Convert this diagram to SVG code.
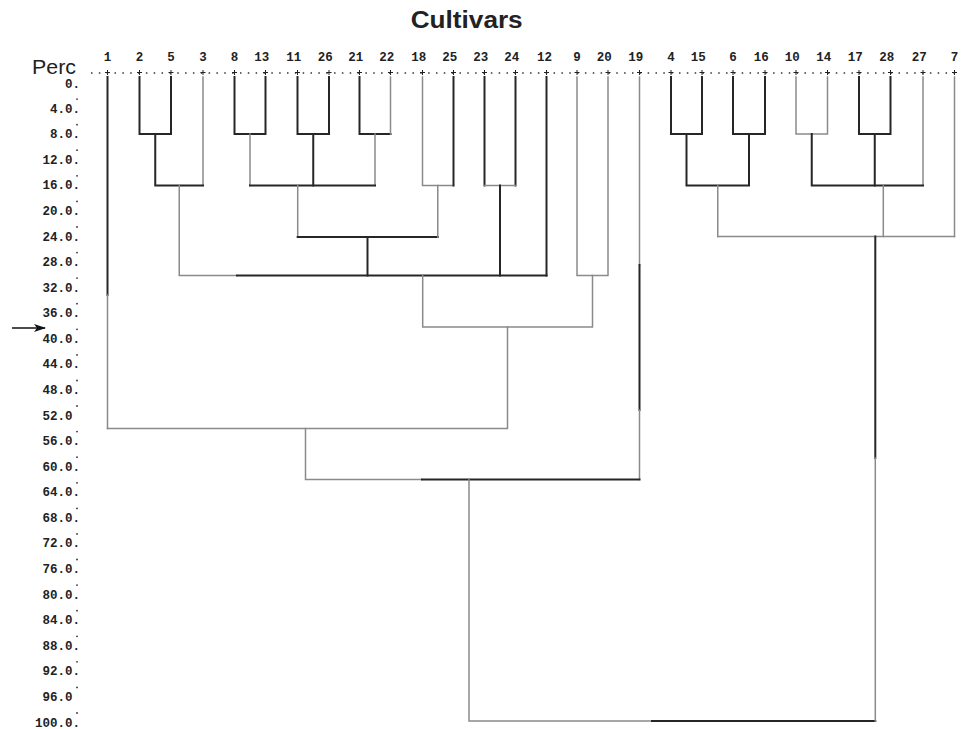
<svg xmlns="http://www.w3.org/2000/svg" width="961" height="729" viewBox="0 0 961 729">
<style>
.d{stroke:#262626;stroke-width:2;fill:none;stroke-linecap:square}
.g{stroke:#8a8a8a;stroke-width:1.5;fill:none;stroke-linecap:square}
.num{font-family:"Liberation Mono","DejaVu Sans Mono",monospace;font-weight:bold;font-size:12.5px;fill:#222}
.ax{font-family:"Liberation Mono","DejaVu Sans Mono",monospace;font-weight:bold;font-size:12.5px;fill:#222;text-anchor:end}
.tick{stroke:#222;stroke-width:1;fill:none}
.dot{fill:#333}
</style>
<defs>
<marker id="ah" markerWidth="12" markerHeight="10" refX="11" refY="5" orient="auto" markerUnits="userSpaceOnUse">
<path d="M0,1 L12,5 L0,9 L3,5 Z" fill="#111"/>
</marker>
</defs>
<rect width="961" height="729" fill="#fff"/>

<text x="466.7" y="28" font-family="Liberation Sans,Arial,sans-serif" font-weight="bold" font-size="23" text-anchor="middle" textLength="112" lengthAdjust="spacingAndGlyphs" fill="#222">Cultivars</text>
<text x="32" y="74" font-family="Liberation Sans,Arial,sans-serif" font-size="20" textLength="44" lengthAdjust="spacingAndGlyphs" fill="#222">Perc</text>

<!-- header dotted ruler -->
<g id="ruler">
<line x1="91" y1="73" x2="956" y2="73" stroke="#333" stroke-width="1.5" stroke-dasharray="1.5 6.34"/>
</g>

<!-- leaves -->
<g id="leaf-1"><text class="num" x="107.5" y="60.5" text-anchor="middle">1</text><path class="tick" d="M105 72.5h5M107.5 70v5"/></g>
<g id="leaf-2"><text class="num" x="139.5" y="60.5" text-anchor="middle">2</text><path class="tick" d="M137 72.5h5M139.5 70v5"/></g>
<g id="leaf-5"><text class="num" x="171" y="60.5" text-anchor="middle">5</text><path class="tick" d="M168.5 72.5h5M171 70v5"/></g>
<g id="leaf-3"><text class="num" x="203" y="60.5" text-anchor="middle">3</text><path class="tick" d="M200.5 72.5h5M203 70v5"/></g>
<g id="leaf-8"><text class="num" x="234.5" y="60.5" text-anchor="middle">8</text><path class="tick" d="M232 72.5h5M234.5 70v5"/></g>
<g id="leaf-13"><text class="num" x="269.3" y="60.5" text-anchor="end">13</text><path class="tick" d="M263 72.5h5M265.5 70v5"/></g>
<g id="leaf-11"><text class="num" x="301.3" y="60.5" text-anchor="end">11</text><path class="tick" d="M295 72.5h5M297.5 70v5"/></g>
<g id="leaf-26"><text class="num" x="332.8" y="60.5" text-anchor="end">26</text><path class="tick" d="M326.5 72.5h5M329 70v5"/></g>
<g id="leaf-21"><text class="num" x="363.3" y="60.5" text-anchor="end">21</text><path class="tick" d="M357 72.5h5M359.5 70v5"/></g>
<g id="leaf-22"><text class="num" x="394.3" y="60.5" text-anchor="end">22</text><path class="tick" d="M388 72.5h5M390.5 70v5"/></g>
<g id="leaf-18"><text class="num" x="426.3" y="60.5" text-anchor="end">18</text><path class="tick" d="M420 72.5h5M422.5 70v5"/></g>
<g id="leaf-25"><text class="num" x="457.3" y="60.5" text-anchor="end">25</text><path class="tick" d="M451 72.5h5M453.5 70v5"/></g>
<g id="leaf-23"><text class="num" x="488.3" y="60.5" text-anchor="end">23</text><path class="tick" d="M482 72.5h5M484.5 70v5"/></g>
<g id="leaf-24"><text class="num" x="519.3" y="60.5" text-anchor="end">24</text><path class="tick" d="M513 72.5h5M515.5 70v5"/></g>
<g id="leaf-12"><text class="num" x="552" y="60.5" text-anchor="end">12</text><path class="tick" d="M544 72.5h5M546.5 70v5"/></g>
<g id="leaf-9"><text class="num" x="577" y="60.5" text-anchor="middle">9</text><path class="tick" d="M574.5 72.5h5M577 70v5"/></g>
<g id="leaf-20"><text class="num" x="611.8" y="60.5" text-anchor="end">20</text><path class="tick" d="M605.5 72.5h5M608 70v5"/></g>
<g id="leaf-19"><text class="num" x="643.3" y="60.5" text-anchor="end">19</text><path class="tick" d="M637 72.5h5M639.5 70v5"/></g>
<g id="leaf-4"><text class="num" x="671" y="60.5" text-anchor="middle">4</text><path class="tick" d="M668.5 72.5h5M671 70v5"/></g>
<g id="leaf-15"><text class="num" x="705.8" y="60.5" text-anchor="end">15</text><path class="tick" d="M699.5 72.5h5M702 70v5"/></g>
<g id="leaf-6"><text class="num" x="733" y="60.5" text-anchor="middle">6</text><path class="tick" d="M730.5 72.5h5M733 70v5"/></g>
<g id="leaf-16"><text class="num" x="768.8" y="60.5" text-anchor="end">16</text><path class="tick" d="M762.5 72.5h5M765 70v5"/></g>
<g id="leaf-10"><text class="num" x="799.8" y="60.5" text-anchor="end">10</text><path class="tick" d="M793.5 72.5h5M796 70v5"/></g>
<g id="leaf-14"><text class="num" x="831.3" y="60.5" text-anchor="end">14</text><path class="tick" d="M825 72.5h5M827.5 70v5"/></g>
<g id="leaf-17"><text class="num" x="862.8" y="60.5" text-anchor="end">17</text><path class="tick" d="M856.5 72.5h5M859 70v5"/></g>
<g id="leaf-28"><text class="num" x="894.3" y="60.5" text-anchor="end">28</text><path class="tick" d="M888 72.5h5M890.5 70v5"/></g>
<g id="leaf-27"><text class="num" x="926.8" y="60.5" text-anchor="end">27</text><path class="tick" d="M920.5 72.5h5M923 70v5"/></g>
<g id="leaf-7"><text class="num" x="954.5" y="60.5" text-anchor="middle">7</text><path class="tick" d="M952 72.5h5M954.5 70v5"/></g>

<!-- axis -->
<g id="axis">
<text class="ax" x="80" y="87.5">0.</text>
<text class="ax" x="80" y="112.6">4.0.</text>
<text class="ax" x="80" y="138.2">8.0.</text>
<text class="ax" x="80" y="163.7">12.0.</text>
<text class="ax" x="80" y="189.3">16.0.</text>
<text class="ax" x="80" y="214.9">20.0.</text>
<text class="ax" x="80" y="240.5">24.0.</text>
<text class="ax" x="80" y="266.1">28.0.</text>
<text class="ax" x="80" y="291.6">32.0.</text>
<text class="ax" x="80" y="317.2">36.0.</text>
<text class="ax" x="80" y="342.8">40.0.</text>
<text class="ax" x="80" y="368.4">44.0.</text>
<text class="ax" x="80" y="394">48.0.</text>
<text class="ax" x="72.5" y="419.5">52.0</text>
<text class="ax" x="80" y="445.1">56.0.</text>
<text class="ax" x="80" y="470.7">60.0.</text>
<text class="ax" x="80" y="496.3">64.0.</text>
<text class="ax" x="80" y="521.9">68.0.</text>
<text class="ax" x="80" y="547.4">72.0.</text>
<text class="ax" x="80" y="573">76.0.</text>
<text class="ax" x="80" y="598.6">80.0.</text>
<text class="ax" x="80" y="624.2">84.0.</text>
<text class="ax" x="80" y="649.8">88.0.</text>
<text class="ax" x="80" y="675.3">92.0.</text>
<text class="ax" x="72.5" y="700.9">96.0</text>
<text class="ax" x="80" y="726.5">100.0.</text>
<g class="dot">
<circle cx="77" cy="99.1" r="0.9"/><circle cx="77" cy="124.7" r="0.9"/><circle cx="77" cy="150.2" r="0.9"/><circle cx="77" cy="175.8" r="0.9"/><circle cx="77" cy="201.4" r="0.9"/>
<circle cx="77" cy="227" r="0.9"/><circle cx="77" cy="252.6" r="0.9"/><circle cx="77" cy="278.1" r="0.9"/><circle cx="77" cy="303.7" r="0.9"/><circle cx="77" cy="329.3" r="0.9"/>
<circle cx="77" cy="354.9" r="0.9"/><circle cx="77" cy="380.5" r="0.9"/><circle cx="77" cy="406" r="0.9"/><circle cx="77" cy="431.6" r="0.9"/><circle cx="77" cy="457.2" r="0.9"/>
<circle cx="77" cy="482.8" r="0.9"/><circle cx="77" cy="508.4" r="0.9"/><circle cx="77" cy="533.9" r="0.9"/><circle cx="77" cy="559.5" r="0.9"/><circle cx="77" cy="585.1" r="0.9"/>
<circle cx="77" cy="610.7" r="0.9"/><circle cx="77" cy="636.3" r="0.9"/><circle cx="77" cy="661.8" r="0.9"/><circle cx="77" cy="687.4" r="0.9"/><circle cx="77" cy="713" r="0.9"/>
</g>
</g>

<g id="arrow">
<line x1="12" y1="328" x2="45" y2="328" stroke="#111" stroke-width="1.5" marker-end="url(#ah)"/>
</g>

<g id="connectors">
<path class="d" d="M107.5 77V295"/><path class="g" d="M107.5 295V428.5"/>
<path class="d" d="M139.5 77V134H171V77"/>
<path class="g" d="M203 77V185.5"/>
<path class="d" d="M234.5 77V134H265.5V77"/>
<path class="d" d="M297.5 77V134H329V77"/>
<path class="d" d="M390.5 134H359.5V77"/><path class="g" d="M390.5 77V134"/>
<path class="g" d="M422.5 77V185.5H453.5"/><path class="d" d="M453.5 77V185.5"/>
<path class="d" d="M484.5 77V185.5"/><path class="d" d="M515.5 77V185.5"/><path class="g" d="M484.5 185.5H515.5"/>
<path class="d" d="M546.5 77V275.5"/>
<path class="g" d="M577 77V275.5H608V77"/>
<path class="g" d="M639.5 77V265"/><path class="d" d="M639.5 265V410"/><path class="g" d="M639.5 410V479.5"/>
<path class="d" d="M671 77V134H702V77"/>
<path class="d" d="M733 77V134H765V77"/>
<path class="g" d="M796 77V134H827.5V77"/>
<path class="d" d="M859 77V134H890.5V77"/>
<path class="g" d="M923 77V185.5"/>
<path class="g" d="M954.5 77V236.5"/>
<path class="d" d="M155.25 134V185.5H203"/>
<path class="g" d="M179.25 185.5V275.5H237"/>
<path class="g" d="M250 134V185.5"/><path class="d" d="M313.25 134V185.5"/><path class="g" d="M375 134V185.5"/>
<path class="d" d="M250 185.5H375"/>
<path class="g" d="M297.7 185.5V237"/>
<path class="d" d="M297.7 237H437.75"/>
<path class="g" d="M437.75 185.5V237"/>
<path class="d" d="M367.5 237V275.5"/>
<path class="d" d="M500 185.5V275.5"/>
<path class="d" d="M237 275.5H546.5"/>
<path class="g" d="M422.7 275.5V327H592.5V275.5"/>
<path class="g" d="M507.5 327V428.5H107.5"/>
<path class="g" d="M305.5 428.5V479.5H422"/>
<path class="d" d="M422 479.5H639.5"/>
<path class="g" d="M469 479.5V721H652"/>
<path class="d" d="M652 721H875.3"/>
<path class="d" d="M686.5 134V185.5H749V134"/>
<path class="g" d="M717.75 185.5V236.5"/>
<path class="d" d="M811.75 134V185.5H923"/>
<path class="d" d="M874.75 134V185.5"/>
<path class="g" d="M883.3 185.5V236.5"/>
<path class="g" d="M717.75 236.5H954.5"/>
<path class="d" d="M875.3 236.5V458"/><path class="g" d="M875.3 458V721"/>
</g>
</svg>
